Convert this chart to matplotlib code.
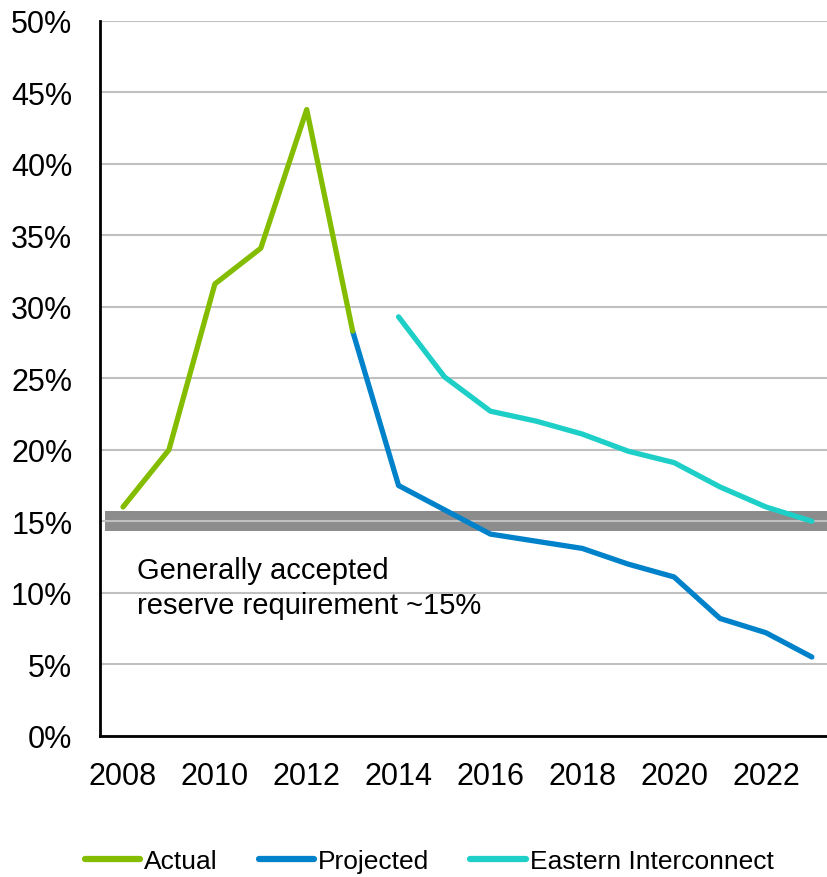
import numpy as np
import matplotlib
import matplotlib.pyplot as plt
from matplotlib.ticker import PercentFormatter

matplotlib.use('Agg')
plt.rcParams['font.family'] = ['Liberation Sans', 'DejaVu Sans']

actual_years = [2008, 2009, 2010, 2011, 2012, 2013]
actual = [16.0, 20.0, 31.6, 34.1, 43.8, 28.3]

proj_years = [2013, 2014, 2015, 2016, 2017, 2018, 2019, 2020, 2021, 2022, 2023]
projected = [28.3, 17.5, 15.8, 14.1, 13.6, 13.1, 12.0, 11.1, 8.2, 7.2, 5.5]

east_years = [2014, 2015, 2016, 2017, 2018, 2019, 2020, 2021, 2022, 2023]
eastern = [29.3, 25.1, 22.7, 22.0, 21.1, 19.9, 19.1, 17.4, 16.0, 15.0]

xticks = [2008, 2010, 2012, 2014, 2016, 2018, 2020, 2022]
yticks = [0, 5, 10, 15, 20, 25, 30, 35, 40, 45, 50]
band = (14.3, 15.7)

GREEN = '#84bd00'
BLUE = '#0082ca'
TEAL = '#1ecfc8'

fig = plt.figure(figsize=(8.27, 8.78), dpi=100)
ax = fig.add_axes([0.121, 0.161, 0.879, 0.814])

ax.set_xlim(2007.5, 2023.33)
ax.set_ylim(0, 50)

# reserve requirement band
ax.fill_between([2007.6, 2023.33], band[0], band[1], color='#8c8c8c', zorder=1, linewidth=0)
ax.grid(axis='y', color='#c0c0c0', linewidth=1.5, zorder=2)
ax.set_axisbelow(False)

ax.plot(actual_years, actual, color=GREEN, lw=3.8, solid_capstyle='round', zorder=4, label='Actual')
ax.plot(proj_years, projected, color=BLUE, lw=3.8, solid_capstyle='round', zorder=3, label='Projected')
ax.plot(east_years, eastern, color=TEAL, lw=3.8, solid_capstyle='round', zorder=3, label='Eastern Interconnect')

ax.text(2008.3, 12.55, 'Generally accepted\nreserve requirement ~15%', fontsize=21,
        va='top', ha='left', linespacing=1.3, zorder=5)

ax.set_xticks(xticks)
ax.set_yticks(yticks)
ax.yaxis.set_major_formatter(PercentFormatter(decimals=0))
ax.tick_params(axis='both', length=0, labelsize=22)
ax.tick_params(axis='y', pad=20)
ax.tick_params(axis='x', pad=18)

for s in ['top', 'right']:
    ax.spines[s].set_visible(False)
for s in ['left', 'bottom']:
    ax.spines[s].set_linewidth(2)
    ax.spines[s].set_color('black')
    ax.spines[s].set_zorder(6)

leg = fig.legend(loc='center', bbox_to_anchor=(0.519, 0.018), ncol=3, frameon=False,
                 fontsize=19, handlelength=2.1, handletextpad=0.15, columnspacing=1.55)
for line in leg.get_lines():
    line.set_linewidth(4.5)

fig.savefig('out.png', dpi=100)
